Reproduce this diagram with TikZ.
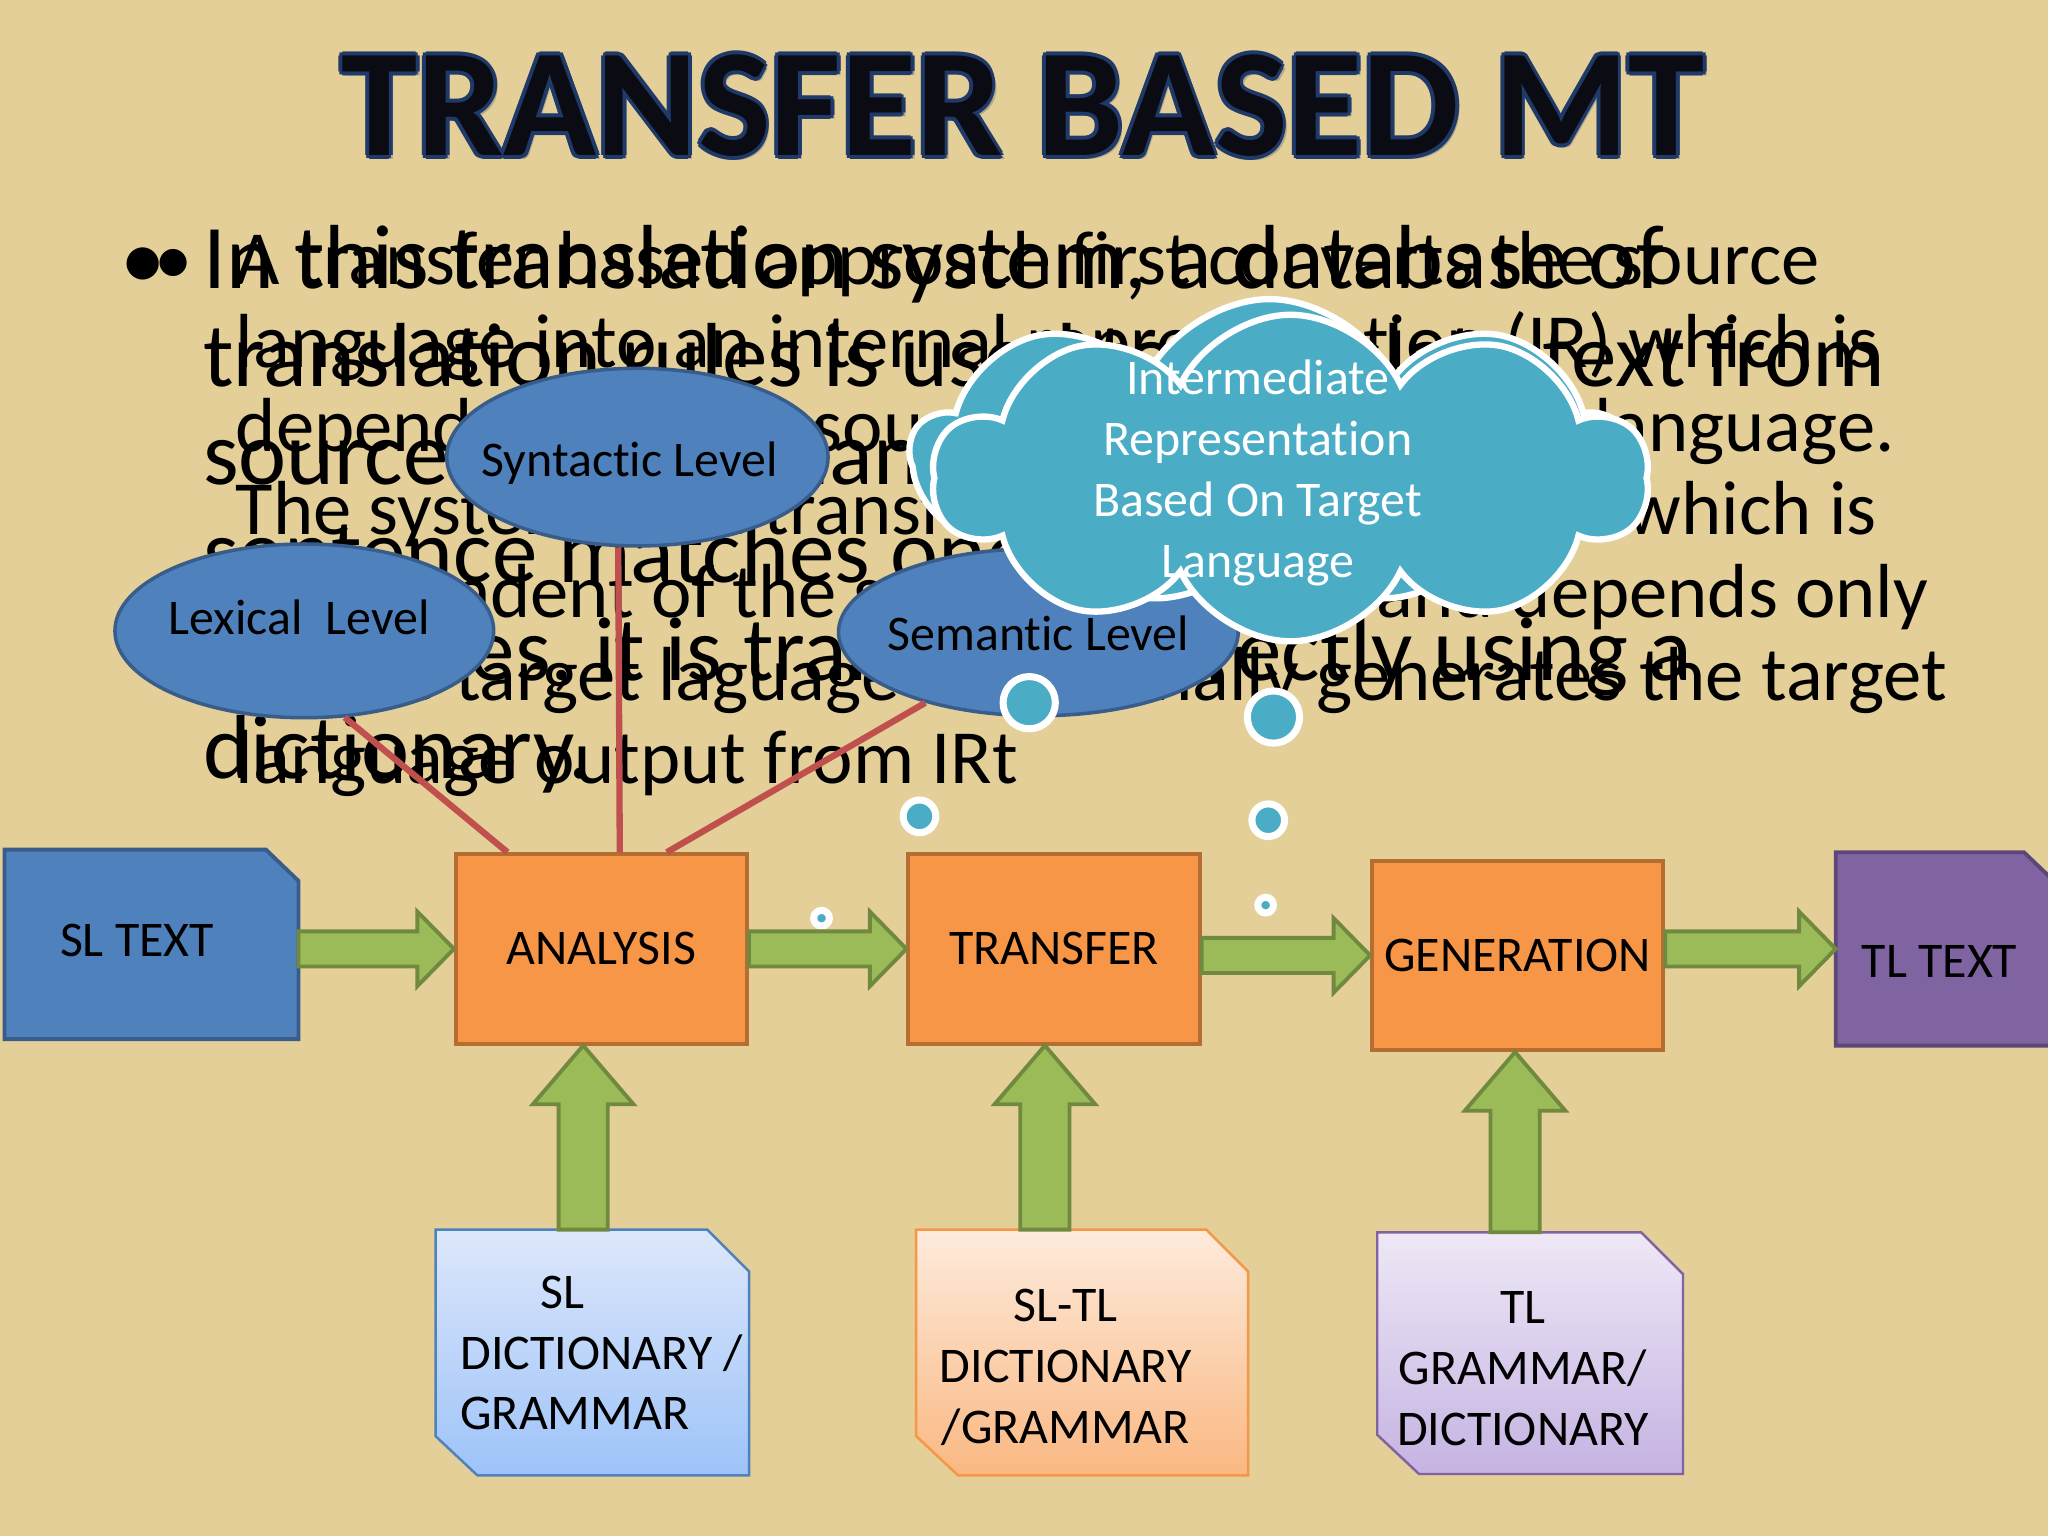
\documentclass[tikz,border=0pt]{standalone}
\usepackage{fontspec}
\setmainfont{Carlito}[Ligatures=NoCommon]
\usetikzlibrary{shapes.geometric,shapes.symbols,calc}

\definecolor{paper}{HTML}{E3CF97}
\definecolor{titleink}{HTML}{0B0B14}
\definecolor{titleedge}{HTML}{1F3A68}
\definecolor{procfill}{HTML}{F79646}
\definecolor{procedge}{HTML}{B66D31}
\definecolor{slfill}{HTML}{4F81BD}
\definecolor{sledge}{HTML}{385D8A}
\definecolor{tlfill}{HTML}{8064A2}
\definecolor{tledge}{HTML}{5C4776}
\definecolor{flowfill}{HTML}{9BBB59}
\definecolor{flowedge}{HTML}{71893F}
\definecolor{linkred}{HTML}{C0504D}
\definecolor{cloudfill}{HTML}{4BACC6}
\definecolor{sltop}{HTML}{DDE7FA}
\definecolor{slbottom}{HTML}{9DC3F9}
\definecolor{sltltop}{HTML}{FDEBDC}
\definecolor{sltlbottom}{HTML}{FAB882}
\definecolor{tltop}{HTML}{EEE8F6}
\definecolor{tlbottom}{HTML}{C5B3E2}

% one pixel of the slide
\newcommand{\unitpx}{0.13061mm}
\newcommand{\bodyfonta}{\fontsize{25.9}{28.2}\selectfont}
\newcommand{\bodyfontb}{\fontsize{21.8}{23.7}\selectfont}
\newcommand{\lblfont}{\fontsize{14.2}{17.3}\selectfont}

\tikzset{
  procbox/.style={rectangle, draw=procedge, fill=procfill, line width=1.1pt,
    minimum width=223*\unitpx, minimum height=145*\unitpx, inner sep=0pt, font=\lblfont},
  frame/.style={rectangle, inner sep=0pt},
  level/.style={ellipse, draw=sledge, fill=slfill, line width=1pt, inner sep=0pt},
  link/.style={draw=linkred, line width=1.8pt},
  blockarrow/.style={draw=flowedge, fill=flowfill, line width=1.1pt, line join=miter},
  bubble/.style={circle, fill=cloudfill, draw=white, line width=2pt, inner sep=0pt},
  thought/.style={cloud, cloud puffs=9, cloud puff arc=130, aspect=2.3,
    fill=cloudfill, draw=white, line width=1.8pt, inner sep=0pt,
    minimum width=548*\unitpx, minimum height=236*\unitpx},
  lbl/.style={font=\lblfont, inner sep=0pt, align=center},
  linea/.style={font=\bodyfonta, inner sep=0pt, anchor=base west},
  lineb/.style={font=\bodyfontb, inner sep=0pt, anchor=base west},
  headline/.style={font=\fontsize{43.7}{50}\selectfont\bfseries, inner sep=0pt, anchor=base}
}

% block arrows: to the right (x of #1, tip at #2) and upwards (y of #1, tip at #2)
\newcommand{\rightblock}[2]{%
  \draw[blockarrow] let \p1=(#1), \p2=(#2) in
    (\x1,\y2+5pt) -- (\x2-10.4pt,\y2+5pt) -- (\x2-10.4pt,\y2+10.6pt) -- (\x2,\y2)
    -- (\x2-10.4pt,\y2-10.6pt) -- (\x2-10.4pt,\y2-5pt) -- (\x1,\y2-5pt) -- cycle;}
\newcommand{\upblock}[2]{%
  \draw[blockarrow] let \p1=(#1), \p2=(#2) in
    (\x2-7pt,\y1) -- (\x2-7pt,\y2-16.7pt) -- (\x2-14.3pt,\y2-16.7pt) -- (\x2,\y2)
    -- (\x2+14.3pt,\y2-16.7pt) -- (\x2+7pt,\y2-16.7pt) -- (\x2+7pt,\y1) -- cycle;}
% snipped outlines round a frame node
\newcommand{\snipone}[2]{%
  \draw[#2] (#1.south west) -- (#1.north west) -- ([xshift=-25*\unitpx]#1.north east)
    -- ([yshift=-24*\unitpx]#1.north east) -- (#1.south east) -- cycle;}
\newcommand{\sniptwo}[2]{%
  \draw[#2] (#1.north west) -- ([xshift=-32*\unitpx]#1.north east)
    -- ([yshift=-32*\unitpx]#1.north east) -- (#1.south east)
    -- ([xshift=32*\unitpx]#1.south west) -- ([yshift=30*\unitpx]#1.south west) -- cycle;}

\begin{document}
\begin{tikzpicture}[x=\unitpx, y=-\unitpx]
  \useasboundingbox (0,0) rectangle (1568,1176);
  \clip (0,0) rectangle (1568,1176);
  \fill[paper] (0,0) rectangle (1568,1176);

  % Title
  \node[headline, text=black!50, opacity=0.5] at (786,122) {TRANSFER BASED MT};
  \foreach \a in {0,45,...,315}
    \node[headline, text=titleedge] at ($(783,119)+(\a:1.1pt)$) {TRANSFER BASED MT};
  \node[headline, text=titleink] (title) at (783,119) {TRANSFER BASED MT};

  % The two bullet texts lying on top of each other
  \node[linea] (bullet-a) at (92,222) {•};
  \node[lineb] (bullet-b) at (118,218) {•};
  \foreach \ln [count=\i] in {{In this translation system, a database of},
      {translation rules is used to translate text from},
      {source to target language. Whenever a},
      {sentence matches one of the rules or},
      {examples, it is translated directly using a},
      {dictionary.}}
    \node[linea] (a\i) at (155,{221+75*(\i-1)}) {\ln};
  \foreach \ln [count=\i] in {{A transfer based approach first converts the source},
      {language into an internal representation (IR) which is},
      {dependent on the source and on the target language.},
      {The system then transfers this IR into the IRt which is},
      {independent of the source language and depends only},
      {on the target laguage and it finally generates the target},
      {language output from IRt}}
    \node[lineb] (b\i) at (180,{218+63.7*(\i-1)}) {\ln};

  % Levels
  \node[level, minimum width=290*\unitpx, minimum height=133*\unitpx] (lexical) at (233,483) {};
  \node[lbl] (lexical-txt) at (229,473) {Lexical\ \ Level};
  \node[level, minimum width=292*\unitpx, minimum height=136*\unitpx] (syntactic) at (488,350) {};
  \node[lbl] (syntactic-txt) at (482,355) {Syntactic Level};
  \node[level, minimum width=306*\unitpx, minimum height=128*\unitpx] (semantic) at (795,484) {};
  \node[lbl] (semantic-txt) at (795,485) {Semantic Level};

  % Intermediate representation
  \node[thought] (irback) at (972,347) {};
  \node[thought, cloud puffs=10, minimum height=250*\unitpx] (irfront) at (988,366) {};
  \node[lbl, text=white] (irtext) at (963,362) {Intermediate\\Representation\\Based On Target\\Language};
  \node[bubble, minimum size=40*\unitpx] (b1) at (788,538) {};
  \node[bubble, minimum size=25*\unitpx] (b2) at (704,625) {};
  \node[bubble, minimum size=12*\unitpx] (b3) at (629,703) {};
  \node[bubble, minimum size=40*\unitpx] (c1) at (975,549) {};
  \node[bubble, minimum size=25*\unitpx] (c2) at (971,628) {};
  \node[bubble, minimum size=12*\unitpx] (c3) at (969,693) {};

  % Pipeline
  \node[frame, minimum width=224*\unitpx, minimum height=144*\unitpx] (sltext) at (116,723) {};
  \snipone{sltext}{draw=sledge, fill=slfill, line width=1.1pt}
  \node[lbl] (sltext-txt) at (105,720) {SL TEXT};
  \node[procbox] (analysis) at (460.5,726.5) {ANALYSIS};
  \node[procbox] (transfer) at (807,726.5) {TRANSFER};
  \node[procbox] (generation) at (1162,731.5) {GENERATION};
  \node[frame, minimum width=168*\unitpx, minimum height=147*\unitpx] (tltext) at (1490,726.5) {};
  \snipone{tltext}{draw=tledge, fill=tlfill, line width=1.1pt}
  \node[lbl] (tltext-txt) at (1485,736) {TL TEXT};

  \draw[link] (lexical.-65) -- ([xshift=41*\unitpx]analysis.north west);
  \draw[link] (syntactic.-102) -- ([xshift=127*\unitpx]analysis.north west);
  \draw[link] (semantic.-148) -- ([xshift=163*\unitpx]analysis.north west);

  % Resources
  \node[frame, minimum width=239*\unitpx, minimum height=187*\unitpx] (sldoc) at (453.5,1035.5) {};
  \sniptwo{sldoc}{draw=slfill, line width=0.7pt, top color=sltop, bottom color=slbottom}
  \node[lbl, align=left, anchor=west] (sldoc-txt) at (352,1036) {\hspace*{1.6em}SL\\DICTIONARY /\\GRAMMAR};
  \node[frame, minimum width=253*\unitpx, minimum height=187*\unitpx] (sltldoc) at (828.5,1035.5) {};
  \sniptwo{sltldoc}{draw=procfill, line width=0.7pt, top color=sltltop, bottom color=sltlbottom}
  \node[lbl] (sltldoc-txt) at (816,1047) {SL-TL\\DICTIONARY\\/GRAMMAR};
  \node[frame, minimum width=233*\unitpx, minimum height=184*\unitpx] (tldoc) at (1171.5,1036) {};
  \sniptwo{tldoc}{draw=tlfill, line width=0.7pt, top color=tltop, bottom color=tlbottom}
  \node[lbl] (tldoc-txt) at (1166,1048) {TL\\GRAMMAR/\\DICTIONARY};

  % Arrows
  \rightblock{sltext.east}{analysis.west}
  \rightblock{analysis.east}{transfer.west}
  \rightblock{transfer.east}{generation.west}
  \rightblock{generation.east}{tltext.west}
  \upblock{sldoc.north}{[xshift=-14*\unitpx]analysis.south}
  \upblock{sltldoc.north}{[xshift=-7*\unitpx]transfer.south}
  \upblock{tldoc.north}{[xshift=-2*\unitpx]generation.south}
\end{tikzpicture}
\end{document}
